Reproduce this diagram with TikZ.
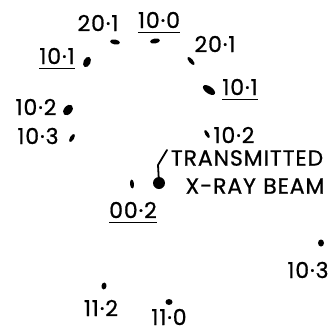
\documentclass[tikz,border=0pt]{standalone}
\usepackage{fontspec}
\usetikzlibrary{shapes.geometric}
\newfontfamily\lbfont[LetterSpace=4, FakeBold=0.8]{Poppins}
\begin{document}
\begin{tikzpicture}[x=1pt,y=-1pt,
  lbl/.style={font=\lbfont\fontsize{22}{22}\selectfont, inner sep=0pt, anchor=center},
  spot/.style={ellipse, fill=black, inner sep=0pt, minimum width=#1},
  spot/.default=9pt,
  uline/.style={line width=1.3pt},
  leader/.style={line width=1.8pt, line cap=round, line join=round}]
\useasboundingbox (0,0) rectangle (330,333);
% labels
\node[lbl] (a201) at (98,23) {20·1};
\node[lbl] (b100) at (159,20) {10·0};
\node[lbl] (c201) at (215,44) {20·1};
\node[lbl] (d101) at (57,56) {10·1};
\node[lbl] (e101) at (240,87) {10·1};
\node[lbl] (f102) at (36,107) {10·2};
\node[lbl] (g103) at (38,136) {10·3};
\node[lbl] (h102) at (234,135) {10·2};
\node[lbl] (tr) at (247,158) {TRANSMITTED};
\node[lbl] (xr) at (255,186) {X-RAY\,\,BEAM};
\node[lbl] (i002) at (133,210) {00·2};
\node[lbl] (j112) at (101,308) {11·2};
\node[lbl] (k110) at (169,317) {11·0};
\node[lbl] (l103) at (308,270) {10·3};
% underlines
\foreach \n in {b100,d101,e101,i002}
  \draw[uline] ([yshift=-4pt]\n.south west) -- ([yshift=-4pt]\n.south east);
% spots
\node[spot=10pt, minimum height=5pt, rotate=-10] (s201a) at (115,42) {};
\node[spot=10pt, minimum height=5pt, rotate=10] (s100) at (155,41) {};
\node[spot=10pt, minimum height=4pt, rotate=-50] (s201b) at (191,61) {};
\node[spot=14pt, minimum height=7pt, rotate=-35] (s101b) at (209,90) {};
\node[spot=9pt, minimum height=3.5pt, rotate=-60] (s102b) at (207,134) {};
\node[spot=11pt, minimum height=7pt, rotate=65] (s101a) at (87,62) {};
\node[spot=12pt, minimum height=8pt, rotate=50] (s102a) at (68,110) {};
\node[spot=9pt, minimum height=4pt, rotate=60] (s103a) at (72,138) {};
\node[spot=9pt, minimum height=4pt, rotate=95] (s002) at (132,184) {};
\node[spot=7pt, minimum height=5pt, rotate=80] (s112) at (104,286) {};
\node[spot=7pt, minimum height=6pt] (s110) at (169,302) {};
\node[spot=7pt, minimum height=6pt, rotate=90] (s103b) at (321,243) {};
\node[circle, fill=black, inner sep=0pt, minimum size=12pt] (beam) at (159,183) {};
% leader
\coordinate (lt) at (167,150);
\coordinate (lk) at (158,165);
\draw[leader] (lt) -- (lk) -- (beam.center);
\end{tikzpicture}
\end{document}
